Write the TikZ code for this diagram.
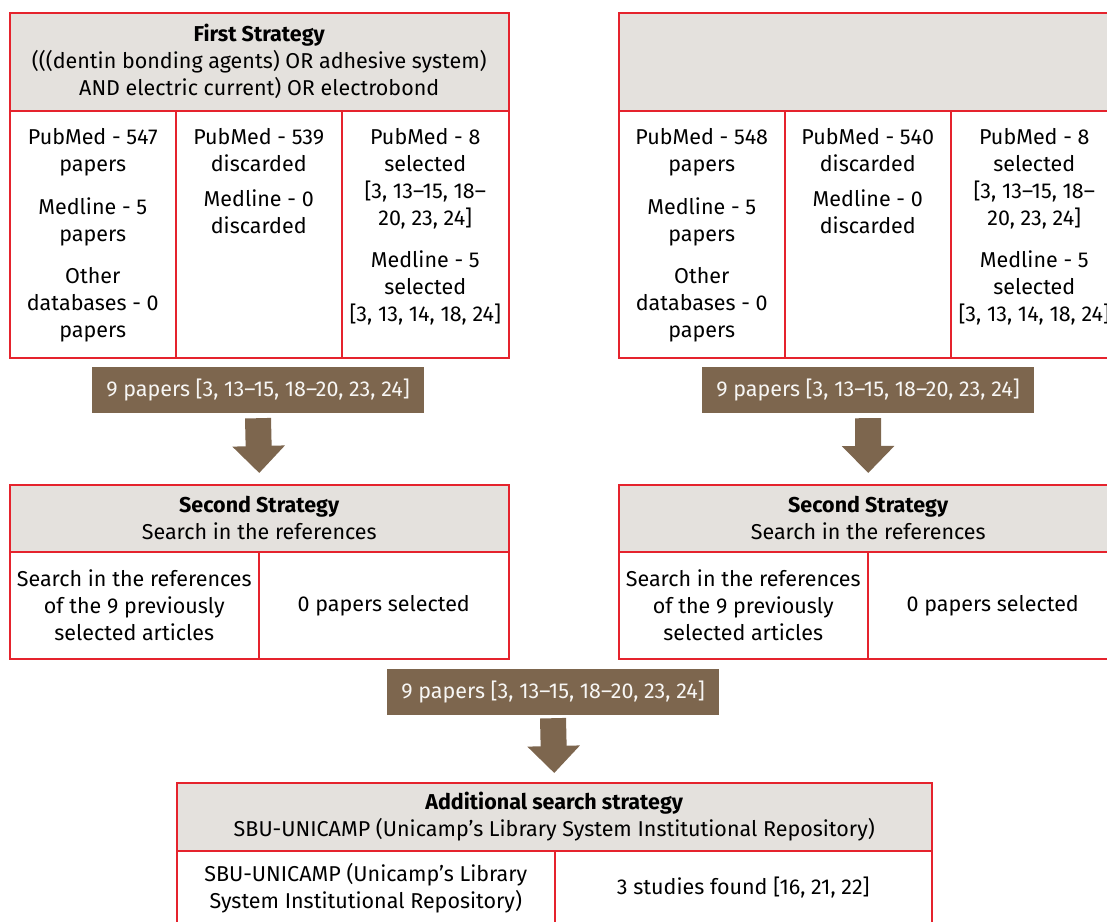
\documentclass[tikz,border=0pt]{standalone}
\usepackage{fontspec}
\setmainfont{Fira Sans}
\usetikzlibrary{arrows.meta, positioning}
\definecolor{boxred}{RGB}{229,35,45}
\definecolor{headgrey}{RGB}{228,225,221}
\definecolor{paperbrown}{RGB}{125,102,78}
\tikzset{
	txt/.style = {align = center, font = \fontsize{21.5}{27}\selectfont, inner sep = 0pt},
	head/.style = {draw = boxred, fill = headgrey, line width = 1.5pt, anchor = north west, txt},
	cell/.style = {draw = boxred, line width = 1.5pt, anchor = north west, txt},
	paper/.style = {fill = paperbrown, text = white!94!paperbrown, minimum width = 332pt, minimum height = 46pt, txt},
	fat/.style = {paperbrown, line width = 26pt, -{Triangle[width = 51pt, length = 27pt]}}
}

\begin{document}
\begin{tikzpicture}[x = 1pt, y = 1pt]
	\useasboundingbox (0, 0) rectangle (1107, -921);
	\clip (0, 0) rectangle (1107, -921);

	% first strategy
	\node [head, minimum width = 499pt, minimum height = 98pt] (firstL) at (9, -12) {\textbf{First Strategy}\\(((dentin bonding agents) OR adhesive system)\\AND electric current) OR electrobond};
	\node [cell, minimum width = 166pt, minimum height = 247pt] (foundL) at (9, -110) {};
	\node [cell, minimum width = 166pt, minimum height = 247pt] (discL) at (175, -110) {};
	\node [cell, minimum width = 167pt, minimum height = 247pt] (selL) at (341, -110) {};
	\node [txt, below = 18pt of foundL.north] (foundLt) {PubMed - 547\\papers\\[16pt]Medline - 5\\papers\\[15pt]Other\\databases - 0\\papers};
	\node [txt, below = 18pt of discL.north] (discLt) {PubMed - 539\\discarded\\[8pt]Medline - 0\\discarded};
	\node [txt, below = 18pt of selL.north] (selLt) {PubMed - 8\\selected\\{}[3, 13--15, 18--\\20, 23, 24]\\[15pt]Medline - 5\\selected\\{}[3, 13, 14, 18, 24]};

	\node [head, minimum width = 499pt, minimum height = 98pt] (firstR) at (618, -12) {};
	\node [cell, minimum width = 166pt, minimum height = 247pt] (foundR) at (618, -110) {};
	\node [cell, minimum width = 166pt, minimum height = 247pt] (discR) at (784, -110) {};
	\node [cell, minimum width = 167pt, minimum height = 247pt] (selR) at (950, -110) {};
	\node [txt, below = 18pt of foundR.north] (foundRt) {PubMed - 548\\papers\\[16pt]Medline - 5\\papers\\[15pt]Other\\databases - 0\\papers};
	\node [txt, below = 18pt of discR.north] (discRt) {PubMed - 540\\discarded\\[8pt]Medline - 0\\discarded};
	\node [txt, below = 18pt of selR.north] (selRt) {PubMed - 8\\selected\\{}[3, 13--15, 18--\\20, 23, 24]\\[15pt]Medline - 5\\selected\\{}[3, 13, 14, 18, 24]};

	\node [paper] (paperL) at (258, -390) {9 papers [3, 13--15, 18--20, 23, 24]};
	\node [paper] (paperR) at (868, -390) {9 papers [3, 13--15, 18--20, 23, 24]};

	% second strategy
	\node [head, minimum width = 499pt, minimum height = 67pt] (secondL) at (9, -484) {\textbf{Second Strategy}\\Search in the references};
	\node [cell, minimum width = 249pt, minimum height = 107pt] (refL) at (9, -551) {Search in the references\\of the 9 previously\\selected articles};
	\node [cell, minimum width = 250pt, minimum height = 107pt] (zeroL) at (258, -551) {0 papers selected};

	\node [head, minimum width = 499pt, minimum height = 67pt] (secondR) at (618, -484) {\textbf{Second Strategy}\\Search in the references};
	\node [cell, minimum width = 249pt, minimum height = 107pt] (refR) at (618, -551) {Search in the references\\of the 9 previously\\selected articles};
	\node [cell, minimum width = 250pt, minimum height = 107pt] (zeroR) at (867, -551) {0 papers selected};

	\draw [fat] ([yshift = -5pt] paperL.south) -- ([yshift = 11pt] secondL.north);
	\draw [fat] ([yshift = -5pt] paperR.south) -- ([yshift = 11pt] secondR.north);

	\node [paper] (paperB) at (553, -692) {9 papers [3, 13--15, 18--20, 23, 24]};

	% additional strategy
	\node [head, minimum width = 755pt, minimum height = 68pt] (extra) at (176, -782) {\textbf{Additional search strategy}\\SBU-UNICAMP (Unicamp's Library System Institutional Repository)};
	\node [cell, minimum width = 378pt, minimum height = 74pt] (sbu) at (176, -850) {SBU-UNICAMP (Unicamp's Library\\System Institutional Repository)};
	\node [cell, minimum width = 377pt, minimum height = 74pt] (found) at (554, -850) {3 studies found [16, 21, 22]};

	\draw [fat] ([yshift = -3pt] paperB.south) -- ([yshift = 9pt] extra.north);
\end{tikzpicture}
\end{document}
